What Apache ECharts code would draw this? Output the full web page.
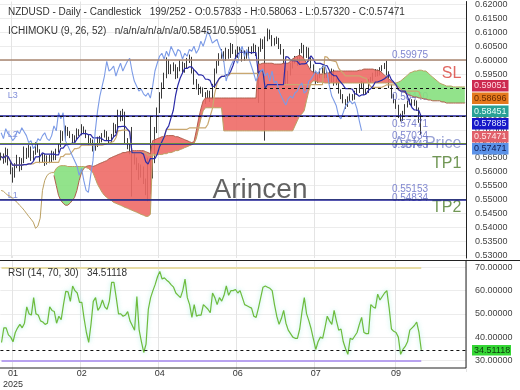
<!DOCTYPE html>
<html><head><meta charset="utf-8">
<script src="https://cdn.jsdelivr.net/npm/echarts@6/dist/echarts.min.js"></script>
<style>html,body{margin:0;padding:0;background:#fff}#c{width:520px;height:390px}</style>
</head><body><div id="c"></div>
<script>
// ---------------- data ----------------
const opens = [
.5650,.5657,.5639,.5675,.5632,.5604,.5586,.5621,.5646,.5611,
.5639,.5675,.5657,.5682,.5646,.5668,.5693,.5675,.5639,.5657,
.5632,.5650,.5639,.5668,.5646,.5675,.5693,.5739,.5718,.5754,
.5736,.5729,.5711,.5721,.5746,.5736,.5757,.5743,.5729,.5704,
.5711,.5682,.5693,.5718,.5711,.5729,.5739,.5718,.5711,.5729,
.5764,.5746,.5811,.5789,.5811,.5711,.5693,.5675,.5657,.5639,
.5621,.5586,.5611,.5568,.5532,.5525,.5586,.5639,.5746,.5818,
.5871,.5907,.5943,.5996,.5961,.5968,.5979,.5943,.5968,.5989,
.5961,.5979,.5996,.6007,.5961,.5925,.5907,.5889,.5896,.5879,
.5871,.5882,.5864,.5907,.5961,.5989,.6014,.6025,.6004,.6032,
.6014,.6050,.6032,.6014,.6039,.6032,.6004,.6025,.6014,.6039,
.6032,.6050,.6025,.6039,.6068,.6050,.6075,.6104,.6086,.6061,
.6068,.6075,.6050,.6032,.5996,.5925,.5954,.5979,.5996,.6004,
.5989,.6032,.6050,.6014,.6039,.6004,.5979,.5954,.5925,.5943,
.5961,.5968,.5943,.5954,.5925,.5961,.5918,.5925,.5889,.5871,
.5854,.5839,.5861,.5871,.5864,.5882,.5889,.5907,.5918,.5882,
.5889,.5925,.5932,.5946,.5961,.5950,.5968,.5975,.5982,.5954,
.5907,.5871,.5854,.5836,.5800,.5789,.5811,.5836,.5846,.5854,
.5843,.5850,.5825,.57833];
const closes = [
.5657,.5639,.5675,.5632,.5604,.5586,.5621,.5646,.5611,.5639,
.5675,.5657,.5682,.5646,.5668,.5693,.5675,.5639,.5657,.5632,
.5650,.5639,.5668,.5646,.5675,.5693,.5739,.5718,.5754,.5736,
.5729,.5711,.5721,.5746,.5736,.5757,.5743,.5729,.5704,.5711,
.5682,.5693,.5718,.5711,.5729,.5739,.5718,.5711,.5729,.5764,
.5746,.5811,.5789,.5811,.5711,.5693,.5675,.5657,.5639,.5621,
.5586,.5611,.5568,.5532,.5525,.5586,.5639,.5746,.5818,.5871,
.5907,.5943,.5996,.5961,.5968,.5979,.5943,.5968,.5989,.5961,
.5979,.5996,.6007,.5961,.5925,.5907,.5889,.5896,.5879,.5871,
.5882,.5864,.5907,.5961,.5989,.6014,.6025,.6004,.6032,.6014,
.6050,.6032,.6014,.6039,.6032,.6004,.6025,.6014,.6039,.6032,
.6050,.6025,.6039,.6068,.6050,.6075,.6104,.6086,.6061,.6068,
.6075,.6050,.6032,.5996,.5925,.5954,.5979,.5996,.6004,.5989,
.6032,.6050,.6014,.6039,.6004,.5979,.5954,.5925,.5943,.5961,
.5968,.5943,.5954,.5925,.5961,.5918,.5925,.5889,.5871,.5854,
.5839,.5861,.5871,.5864,.5882,.5889,.5907,.5918,.5882,.5889,
.5925,.5932,.5946,.5961,.5950,.5968,.5975,.5982,.5954,.5907,
.5871,.5854,.5836,.5800,.5789,.5811,.5836,.5846,.5854,.5843,
.5850,.5825,.5783,.57471];
const highs = [
.5668,.5665,.5686,.5682,.5640,.5615,.5630,.5660,.5652,.5648,
.5690,.5685,.5695,.5690,.5675,.5705,.5700,.5680,.5665,.5662,
.5658,.5660,.5675,.5672,.5682,.5700,.5748,.5745,.5765,.5760,
.5745,.5735,.5730,.5755,.5752,.5770,.5762,.5750,.5733,.5720,
.5715,.5700,.5725,.5728,.5738,.5750,.5745,.5725,.5735,.5775,
.5770,.5822,.5818,.5825,.5815,.5720,.5702,.5760,.5668,.5650,
.5630,.5625,.5618,.5575,.5650,.5800,.5660,.5760,.5830,.5885,
.5920,.5955,.6010,.6002,.5985,.5992,.5985,.5975,.6000,.5995,
.5990,.6008,.6020,.6012,.5968,.5932,.5915,.5905,.5902,.5885,
.5892,.5890,.5915,.5970,.5998,.6025,.6040,.6032,.6045,.6040,
.6062,.6058,.6038,.6050,.6048,.6038,.6035,.6032,.6048,.6050,
.6060,.6055,.6048,.6078,.6075,.6085,.6114,.6110,.6090,.6080,
.6085,.6080,.6058,.6040,.6000,.5962,.5990,.6005,.6015,.6012,
.6040,.6062,.6055,.6048,.6045,.6010,.5985,.5962,.5952,.5970,
.5980,.5975,.5962,.5960,.5970,.5966,.5935,.5930,.5895,.5878,
.5860,.5870,.5880,.5878,.5890,.5898,.5915,.5925,.5922,.5898,
.5932,.5940,.5955,.5968,.5966,.5975,.5982,.5990,.5998,.5960,
.5912,.5878,.5860,.5840,.5808,.5818,.5842,.5855,.5862,.5860,
.5858,.5855,.5830,.58063];
const lows = [
.5640,.5628,.5632,.5622,.5590,.5560,.5578,.5612,.5600,.5605,
.5630,.5645,.5650,.5638,.5640,.5660,.5668,.5630,.5632,.5620,
.5625,.5630,.5633,.5640,.5641,.5668,.5688,.5710,.5712,.5728,
.5720,.5702,.5705,.5715,.5728,.5730,.5735,.5720,.5695,.5698,
.5672,.5675,.5688,.5702,.5705,.5722,.5710,.5700,.5705,.5722,
.5738,.5740,.5780,.5782,.5700,.5680,.5662,.5510,.5625,.5605,
.5570,.5578,.5555,.5515,.5493,.5518,.5575,.5630,.5738,.5810,
.5862,.5898,.5935,.5950,.5950,.5960,.5932,.5935,.5960,.5952,
.5955,.5970,.5990,.5952,.5912,.5895,.5875,.5880,.5868,.5843,
.5862,.5850,.5858,.5900,.5952,.5980,.6005,.5995,.5998,.6005,
.6008,.6022,.6002,.6008,.6022,.5995,.5998,.6005,.6010,.6022,
.6025,.6015,.5846,.6030,.6040,.5711,.6068,.6075,.6050,.6052,
.6058,.6040,.6020,.5985,.5912,.5915,.5945,.5970,.5988,.5980,
.5982,.6025,.6005,.6008,.5995,.5970,.5945,.5915,.5918,.5935,
.5952,.5935,.5936,.5915,.5920,.5908,.5910,.5880,.5860,.5845,
.5825,.5832,.5852,.5855,.5858,.5875,.5882,.5900,.5875,.5876,
.5882,.5918,.5925,.5940,.5942,.5945,.5960,.5968,.5945,.5900,
.5862,.5845,.5825,.5792,.5780,.5782,.5805,.5830,.5840,.5835,
.5836,.5818,.5775,.57320];
// Ichimoku cloud spans (already shifted forward), one per slot
const spanA = [
null,null,null,null,null,null,null,null,null,null,
null,null,null,null,null,null,null,null,null,null,
null,null,null,.5586,.5550,.5514,.5496,.5486,.5479,.5479,
.5486,.5496,.5507,.5532,.5568,.5596,.5611,.5618,.5621,.5621,
.5618,.5621,.5625,.5629,.5632,.5636,.5639,.5646,.5650,.5654,
.5657,.5661,.5664,.5668,.5668,.5671,.5671,.5675,.5675,.5675,
.5675,.5675,.5675,.5671,.5668,.5664,.5711,.5714,.5718,.5721,
.5725,.5725,.5729,.5729,.5729,.5729,.5725,.5725,.5721,.5718,
.5714,.5711,.5707,.5704,.5707,.5746,.5789,.5825,.5854,.5864,
.5864,.5864,.5864,.5864,.5864,.5864,.5864,.5864,.5864,.5864,
.5864,.5864,.5864,.5864,.5864,.5864,.5864,.5864,.5864,.5864,
.5864,.5864,.5986,.5986,.5989,.5989,.5989,.5989,.5989,.5986,
.5986,.5986,.5986,.5989,.5989,.5989,.5996,.6004,.6011,.6014,
.6018,.6014,.6004,.5989,.5975,.5961,.5957,.5954,.5954,.5950,
.5950,.5950,.5954,.5954,.5957,.5961,.5961,.5961,.5961,.5961,
.5961,.5961,.5961,.5961,.5961,.5961,.5964,.5964,.5968,.5968,
.5968,.5968,.5968,.5964,.5964,.5961,.5954,.5946,.5939,.5932,
.5925,.5918,.5911,.5904,.5896,.5889,.5882,.5879,.5875,.5871,
.5868,.5868,.5864,.5864,.5861,.5861,.5857,.5857,.5854,.5854,
.5854,.5854,.5850,.5850,.5846,.5846,.5846,.5846,.5846,.5846,
.5846,.5846,.5846];
const spanB = [
.5532,.5529,.5521,.5514,.5511,.5504,.5496,.5489,.5479,.5471,
.5461,.5450,.5439,.5429,.5418,.5396,.5404,.5432,.5532,.5568,
.5586,.5593,.5596,.5596,.5611,.5618,.5621,.5621,.5621,.5618,
.5618,.5618,.5618,.5618,.5618,.5618,.5618,.5614,.5611,.5604,
.5596,.5575,.5554,.5539,.5525,.5514,.5507,.5500,.5496,.5489,
.5486,.5482,.5479,.5475,.5471,.5468,.5464,.5461,.5457,.5454,
.5450,.5446,.5443,.5439,.5439,.5446,.5664,.5661,.5661,.5661,
.5661,.5664,.5664,.5668,.5668,.5671,.5675,.5675,.5679,.5682,
.5686,.5689,.5693,.5696,.5700,.5718,.5754,.5789,.5818,.5829,
.5829,.5829,.5829,.5829,.5829,.5829,.5829,.5746,.5746,.5746,
.5746,.5746,.5746,.5746,.5746,.5746,.5746,.5746,.5746,.5746,
.5746,.5746,.5746,.5746,.5746,.5746,.5746,.5746,.5746,.5746,
.5746,.5746,.5746,.5746,.5746,.5746,.5746,.5746,.5764,.5782,
.5800,.5807,.5818,.5854,.5889,.5918,.5925,.5925,.5921,.5921,
.5921,.5918,.5918,.5918,.5918,.5918,.5918,.5918,.5918,.5918,
.5918,.5918,.5918,.5918,.5918,.5918,.5918,.5918,.5918,.5918,
.5918,.5918,.5918,.5918,.5918,.5918,.5918,.5918,.5918,.5918,
.5918,.5918,.5918,.5921,.5925,.5932,.5939,.5946,.5954,.5957,
.5961,.5961,.5964,.5964,.5961,.5961,.5954,.5946,.5939,.5932,
.5925,.5918,.5914,.5911,.5907,.5907,.5907,.5904,.5904,.5904,
.5904,.5904,.5904];
const rsiValues = [
37.7,44,44,41,40,38,42,44,45.5,44,
46,53,50,49.5,57,50,49.5,47,46.5,45.5,
46,53,51.5,51,46,49,47.5,54,59.7,59.5,
55.4,62,60,59,55,55,48,42,37.7,45.5,
55.4,57,51.5,53,56,53,52,55.5,63.6,63.6,
57,50,50,49,49.5,51,47,45,43,57.5,
43,38,33.4,37,52,57,60,62.7,66,68.3,
65,65.5,64.5,63.7,62.5,61.5,59,58,57,60,
65,57,54,48.5,54,49,49.5,49.5,54,53,
52,50.5,59,57,54,57,55.5,58,62,58,
60,60,60.5,59,60,57,54,53.5,53,52.5,
49,48.5,52.5,57,61.5,62,61.5,61,60,54,
49,45.5,48,51.5,46,43,41.5,40,39.5,39.5,
43.5,51,57,50,47,43.5,39,34.7,38,40,
39.5,44,49,47,45.5,51.5,47,43,43.5,38,
35,32.6,39.5,39,40.5,42,45.5,48.5,42,41.5,
41.5,54,53,52.5,58.5,56,57.5,59,60,52.5,
43.5,42.5,42,40,32.6,34.7,36,38,43,44,
45,46.5,42,34.51118];

const slotCount = 203;
const xTickIdx  = [5, 35, 69, 103, 137, 172];
const xTickText = ['01\n2025', '02', '04', '06', '07', '09'];
const priceTicks = [0.530,0.535,0.540,0.545,0.550,0.555,0.560,0.565,0.570,0.575,
                    0.580,0.585,0.590,0.595,0.600,0.605,0.610,0.615,0.620];
const rsiTicks = [30, 40, 50, 60, 70];
const rsiLevels = [70, 30];
const rsiLast = 34.51118;

const levelPrices = [0.59975, 0.59051, 0.58696, 0.58440, 0.57885, 0.57471, 0.57034, 0.56743, 0.55153, 0.54834];
const levelNames  = ['SL', '', '', 'L3', '', 'Ask Price', 'L2', 'TP1', 'TP2', 'L1'];
const levelKinds  = ['sl', 'dash', 'dash', 'lvl', 'dash', 'ask', 'lvl', 'tp', 'tp', 'lvl'];
const priceLabelValues = [0.59975, 0.58440, 0.57471, 0.57034, 0.56743, 0.55153, 0.54834];
const tagTexts = ['0.59051', '0.58696', '0.58451', '0.57885', '0.57471', '0.57471'];
const headerLine1 = 'NZDUSD - Daily - Candlestick   199/252 - O:0.57833 - H:0.58063 - L:0.57320 - C:0.57471';
const headerLine2 = 'ICHIMOKU (9, 26, 52)   n/a/n/a/n/a/n/a/0.58451/0.59051';
const rsiHeader = 'RSI (14, 70, 30)   34.51118';

// ---------------- derived ----------------
const N = closes.length;
const cats = Array.from({length: slotCount}, (_, i) => String(i));
function midHL(i, p) {
  let h = -Infinity, l = Infinity;
  for (let k = Math.max(0, i - p + 1); k <= i; k++) { h = Math.max(h, highs[k]); l = Math.min(l, lows[k]); }
  return (h + l) / 2;
}
const tenkan = new Array(slotCount).fill(null), kijun = new Array(slotCount).fill(null);
const chikou = new Array(slotCount).fill(null);
for (let i = 0; i < N; i++) {
  tenkan[i] = midHL(i, 9); kijun[i] = midHL(i, 26);
  if (i >= 26) chikou[i - 26] = closes[i];
}
const cloudBase = [], cloudRed = [], cloudGreen = [];
for (let j = 0; j < slotCount; j++) {
  const a = spanA[j], b = spanB[j];
  if (a == null || b == null) { cloudBase.push(null); cloudRed.push(null); cloudGreen.push(null); continue; }
  cloudBase.push(Math.min(a, b));
  cloudRed.push(a >= b ? a - b : 0);
  cloudGreen.push(b > a ? b - a : 0);
}
const candleData = closes.map((c, i) => [opens[i], c, lows[i], highs[i]]);

// ---------------- styles ----------------
const kindStyle = {
  sl:   {color: '#a98670', type: 'solid', width: 1.5},
  dash: {color: '#111111', type: [3, 3], width: 1},
  lvl:  {color: '#1e1e96', type: 'solid', width: 1.5},
  ask:  {color: '#8a8a8a', type: 'solid', width: 1},
  tp:   {color: '#6a8d3c', type: 'solid', width: 1.2}
};
const bigLabelColor = {sl: '#d8413a', ask: 'rgba(95,110,190,0.8)', tp: '#4d7d2a'};
const levelLines = levelPrices.map((p, k) => {
  const s = kindStyle[levelKinds[k]];
  return {yAxis: p, lineStyle: {color: s.color, type: s.type, width: s.width}, label: {show: false}};
});
const rightNames = [], leftNames = [];
levelPrices.forEach((p, k) => {
  const kind = levelKinds[k];
  if (kind === 'lvl') leftNames.push({value: [0, p], name: levelNames[k]});
  else if (levelNames[k]) rightNames.push({value: [slotCount - 1, p], name: levelNames[k],
      label: {color: bigLabelColor[kind]}});
});
const tagColors = [['#cc2a50', '#ffd8e2'], ['#e57a1e', '#6a2a00'], ['#2aa196', '#eafffb'],
                   ['#1616c8', '#e0e8ff'], ['#e0606a', '#ffe8e8'], ['#5b92e8', '#101850']];
const tagTops = [80, 92.5, 105.5, 118, 131, 143];

const F = 'Liberation Sans';
const chart = echarts.init(document.getElementById('c'), null, {renderer: 'canvas'});
const option = {
  animation: false,
  backgroundColor: '#ffffff',
  grid: [
    {left: 0, right: 54, top: 0, height: 258, show: false},
    {left: 0, right: 54, top: 255.8, height: 118.8, show: false}
  ],
  xAxis: [
    {type: 'category', gridIndex: 0, data: cats, axisLine: {show: false}, axisTick: {show: false},
     axisLabel: {show: false},
     splitLine: {show: true, interval: (i) => xTickIdx.includes(i), lineStyle: {color: '#e4e4e4'}}},
    {type: 'category', gridIndex: 1, data: cats, axisLine: {show: false}, axisTick: {show: false},
     axisLabel: {show: true, interval: (i) => xTickIdx.includes(i),
       formatter: (v) => xTickText[xTickIdx.indexOf(Number(v))],
       color: '#333', fontSize: 9, fontFamily: F, margin: -4, lineHeight: 11},
     splitLine: {show: true, interval: (i) => xTickIdx.includes(i), lineStyle: {color: '#e4e4e4'}}}
  ],
  yAxis: [
    {type: 'value', gridIndex: 0, position: 'right', min: 0.52893, max: 0.62107,
     axisLine: {show: true, lineStyle: {color: '#222'}}, axisTick: {show: false, customValues: priceTicks},
     axisLabel: {customValues: priceTicks, showMinLabel: true, showMaxLabel: true, formatter: (v) => v.toFixed(5),
       color: '#444', fontSize: 9, fontFamily: F, margin: 9},
     splitLine: {show: true, lineStyle: {color: '#ececec'}}},
    {type: 'value', gridIndex: 1, position: 'right', min: 25, max: 75, interval: 5,
     axisLine: {show: false}, axisTick: {show: false}, axisLabel: {show: false},
     splitLine: {show: true, lineStyle: {color: ['rgba(0,0,0,0)', '#ececec']}}}
  ],
  series: [
    {name: 'cloudBase', type: 'line', stack: 'cloud', data: cloudBase, symbol: 'none',
     lineStyle: {width: 0, opacity: 0}, silent: true},
    {name: 'cloudRed', type: 'line', stack: 'cloud', data: cloudRed, symbol: 'none',
     lineStyle: {width: 0, opacity: 0}, areaStyle: {color: '#ee6a66', opacity: 0.9}, silent: true},
    {name: 'cloudGreen', type: 'line', stack: 'cloud', data: cloudGreen, symbol: 'none',
     lineStyle: {width: 0, opacity: 0}, areaStyle: {color: '#86e07e', opacity: 0.9}, silent: true},
    {name: 'spanA', type: 'line', data: spanA, symbol: 'none', lineStyle: {color: '#b0604e', width: 1}},
    {name: 'spanB', type: 'line', data: spanB, symbol: 'none', lineStyle: {color: '#bba062', width: 1}},
    {name: 'candles', type: 'candlestick', data: candleData, barWidth: 1.3,
     itemStyle: {color: '#3a3a3a', color0: '#3a3a3a', borderColor: '#3a3a3a', borderColor0: '#3a3a3a', borderWidth: 1},
     markLine: {silent: true, symbol: ['none', 'none'], animation: false, data: levelLines}},
    {name: 'kijun', type: 'line', data: kijun, symbol: 'none', lineStyle: {color: '#c9a870', width: 1.2}},
    {name: 'tenkan', type: 'line', data: tenkan, symbol: 'none', lineStyle: {color: '#2b2ba8', width: 1.2}},
    {name: 'chikou', type: 'line', data: chikou, symbol: 'none', lineStyle: {color: '#7c9be6', width: 1.1}},
    {name: 'priceLabels', type: 'scatter', symbolSize: 1, itemStyle: {color: 'rgba(0,0,0,0)'},
     data: priceLabelValues.map((p) => [170, p]),
     label: {show: true, position: 'right', distance: 0, offset: [0, -6],
       formatter: (d) => d.value[1].toFixed(5), color: '#5f68c4', fontSize: 10, fontFamily: F}},
    {name: 'rightNames', type: 'scatter', symbolSize: 1, itemStyle: {color: 'rgba(0,0,0,0)'},
     data: rightNames,
     label: {show: true, position: 'left', distance: 3, offset: [0, 13], formatter: (d) => d.name,
       fontSize: 16, fontFamily: F}},
    {name: 'leftNames', type: 'scatter', symbolSize: 1, itemStyle: {color: 'rgba(0,0,0,0)'},
     data: leftNames,
     label: {show: true, position: 'right', distance: 3, offset: [3, -8], formatter: (d) => d.name,
       fontSize: 9, fontFamily: F, color: '#6272d0'}},
    {name: 'rsi', type: 'line', xAxisIndex: 1, yAxisIndex: 1, data: rsiValues, symbol: 'none',
     lineStyle: {color: '#6dbb3c', width: 1.2, shadowColor: 'rgba(120,230,210,0.7)', shadowBlur: 4},
     markLine: {silent: true, symbol: ['none', 'none'], animation: false, label: {show: false},
       data: [
         [{coord: [0, rsiLevels[0]], lineStyle: {color: '#e6dca6', width: 2, type: 'solid'}}, {coord: [N - 1, rsiLevels[0]]}],
         [{coord: [0, rsiLevels[1]], lineStyle: {color: '#b8a2ef', width: 2, type: 'solid'}}, {coord: [N - 1, rsiLevels[1]]}],
         {yAxis: rsiLast, lineStyle: {color: '#111', width: 1, type: [3, 3]}}
       ]}}
  ],
  graphic: [
    {type: 'rect', shape: {x: 0, y: 258, width: 466, height: 2}, style: {fill: '#ffffff'}, z: 99, silent: true},
    {type: 'rect', shape: {x: -1, y: 260.5, width: 467, height: 107.5}, style: {fill: 'none', stroke: '#222', lineWidth: 1}, z: 100, silent: true},
    {type: 'line', shape: {x1: 466, y1: 260.5, x2: 520, y2: 260.5}, style: {stroke: '#222', lineWidth: 1}, z: 100},
    {type: 'text', x: 8, y: 12, style: {text: headerLine1, font: '10px ' + F, fill: '#333', verticalAlign: 'middle'}, z: 100},
    {type: 'text', x: 8, y: 31, style: {text: headerLine2, font: '10px ' + F, fill: '#333', verticalAlign: 'middle'}, z: 100},
    {type: 'text', x: 8, y: 273, style: {text: rsiHeader, font: '10px ' + F, fill: '#333', verticalAlign: 'middle'}, z: 100},
    {type: 'text', x: 260, y: 190, style: {text: 'Arincen', font: '28px ' + F, fill: 'rgba(60,60,60,0.8)', align: 'center', verticalAlign: 'middle'}, z: 90},
    ...tagTexts.map((t, k) => ({type: 'text', x: 472, y: tagTops[k], z: 110,
      style: {text: t, font: '9px ' + F, fill: tagColors[k][1], backgroundColor: tagColors[k][0],
        padding: [1.5, 2, 1, 2], verticalAlign: 'top'}}))
  ]
};
chart.setOption(option);
// RSI tick labels and current-value tag placed through the RSI axis scale
rsiTicks.forEach((v) => {
  const y = chart.convertToPixel({yAxisIndex: 1}, v);
  option.graphic.push({type: 'text', x: 475, y: y, z: 115,
    style: {text: v.toFixed(5), font: '9px ' + F, fill: '#444', verticalAlign: 'middle'}});
});
const yLast = chart.convertToPixel({yAxisIndex: 1}, rsiLast);
option.graphic.push({type: 'rect', shape: {x: 472, y: yLast - 5, width: 39, height: 10.5}, style: {fill: '#35d635'}, z: 110, silent: true});
option.graphic.push({type: 'text', x: 474, y: yLast + 0.3, z: 111,
  style: {text: rsiLast.toFixed(5), font: '9px ' + F, fill: '#0c3a0c', verticalAlign: 'middle'}});
chart.setOption(option, true);
</script>
</body></html>
